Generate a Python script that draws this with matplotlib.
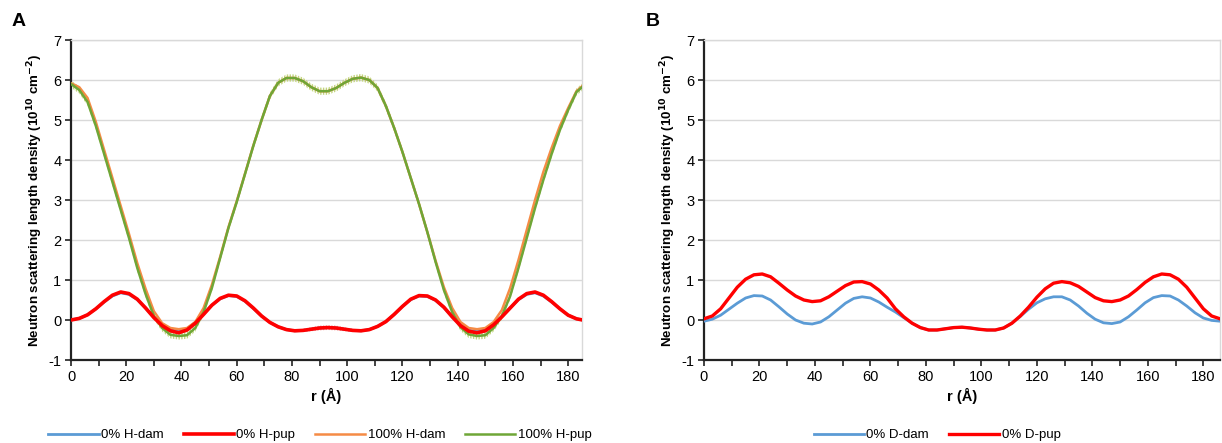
import numpy as np
import matplotlib
matplotlib.use("Agg")
import matplotlib.pyplot as plt

plt.rcParams['font.family'] = ['Liberation Sans', 'DejaVu Sans']
plt.rcParams['axes.unicode_minus'] = False

# radial positions (Å)
r = np.arange(0, 187, 3)

# Panel A
h0_dam = [0.0, 0.04, 0.13, 0.28, 0.45, 0.60, 0.68, 0.64, 0.51, 0.30, 0.07, -0.13, -0.25, -0.28, -0.22,
          -0.06, 0.15, 0.37, 0.53, 0.61, 0.59, 0.47, 0.29, 0.10, -0.06, -0.17, -0.24, -0.27, -0.26, -0.23,
          -0.20, -0.19, -0.20, -0.23, -0.26, -0.27, -0.24, -0.16, -0.04, 0.14, 0.34, 0.51, 0.60, 0.59,
          0.49, 0.31, 0.08, -0.13, -0.26, -0.28, -0.24, -0.10, 0.09, 0.30, 0.51, 0.64, 0.68, 0.60, 0.45,
          0.28, 0.12, 0.03, -0.01]
h0_pup = [0.0, 0.04, 0.13, 0.28, 0.46, 0.62, 0.70, 0.66, 0.52, 0.30, 0.06, -0.14, -0.27, -0.32, -0.25,
          -0.08, 0.14, 0.37, 0.54, 0.62, 0.60, 0.48, 0.30, 0.10, -0.06, -0.17, -0.24, -0.27, -0.26, -0.23,
          -0.20, -0.19, -0.20, -0.23, -0.26, -0.27, -0.24, -0.16, -0.04, 0.14, 0.34, 0.52, 0.61, 0.60,
          0.50, 0.32, 0.08, -0.14, -0.28, -0.32, -0.27, -0.12, 0.08, 0.30, 0.52, 0.66, 0.70, 0.62, 0.46,
          0.28, 0.12, 0.03, -0.01]
h0_pup_err = [0.0] * 28 + [0.04, 0.05, 0.06, 0.06, 0.06, 0.05, 0.04] + [0.0] * 28
h100_dam = [5.92, 5.82, 5.55, 4.95, 4.25, 3.55, 2.85, 2.15, 1.42, 0.78, 0.22, -0.08, -0.20, -0.23, -0.20,
            -0.05, 0.30, 0.88, 1.58, 2.32, 2.97, 3.66, 4.36, 5.00, 5.60, 5.93, 6.05, 6.05, 5.97, 5.82,
            5.72, 5.72, 5.80, 5.93, 6.03, 6.06, 6.00, 5.80, 5.35, 4.80, 4.20, 3.55, 2.90, 2.20, 1.48,
            0.82, 0.30, -0.05, -0.20, -0.23, -0.20, -0.05, 0.25, 0.80, 1.50, 2.25, 3.00, 3.70, 4.30,
            4.85, 5.30, 5.72, 5.90]
h100_pup = [5.90, 5.75, 5.45, 4.85, 4.15, 3.45, 2.75, 2.05, 1.30, 0.65, 0.10, -0.20, -0.37, -0.40, -0.38,
            -0.20, 0.20, 0.80, 1.55, 2.30, 2.95, 3.65, 4.35, 5.00, 5.60, 5.93, 6.05, 6.05, 5.97, 5.82,
            5.72, 5.72, 5.80, 5.93, 6.03, 6.06, 6.00, 5.80, 5.35, 4.80, 4.20, 3.55, 2.90, 2.20, 1.45,
            0.75, 0.20, -0.18, -0.36, -0.40, -0.38, -0.20, 0.10, 0.60, 1.30, 2.05, 2.80, 3.50, 4.15,
            4.75, 5.25, 5.70, 5.88]
h100_pup_err = [0.09] * len(h100_pup)

# Panel B
d0_dam = [-0.03, 0.02, 0.12, 0.27, 0.42, 0.55, 0.61, 0.60, 0.50, 0.33, 0.15, 0.00, -0.08, -0.10, -0.05,
          0.08, 0.25, 0.42, 0.54, 0.58, 0.55, 0.45, 0.32, 0.20, 0.06, -0.08, -0.19, -0.25, -0.25, -0.22,
          -0.19, -0.18, -0.20, -0.23, -0.25, -0.25, -0.20, -0.08, 0.09, 0.27, 0.43, 0.53, 0.58, 0.58,
          0.50, 0.35, 0.17, 0.02, -0.07, -0.09, -0.05, 0.08, 0.25, 0.43, 0.56, 0.61, 0.60, 0.50, 0.35,
          0.18, 0.05, -0.01, -0.03]
d0_pup = [0.03, 0.10, 0.28, 0.55, 0.82, 1.02, 1.13, 1.15, 1.08, 0.92, 0.75, 0.60, 0.50, 0.46, 0.48,
          0.58, 0.72, 0.86, 0.95, 0.96, 0.90, 0.75, 0.55, 0.28, 0.08, -0.08, -0.19, -0.25, -0.25, -0.22,
          -0.19, -0.18, -0.20, -0.23, -0.25, -0.25, -0.20, -0.08, 0.10, 0.32, 0.57, 0.78, 0.92, 0.96,
          0.93, 0.84, 0.70, 0.56, 0.48, 0.46, 0.50, 0.60, 0.76, 0.94, 1.08, 1.15, 1.13, 1.02, 0.82,
          0.55, 0.28, 0.10, 0.03]

labels_A = ['0% H-dam', '0% H-pup', '100% H-dam', '100% H-pup']
labels_B = ['0% D-dam', '0% D-pup']
c_blue, c_red, c_orange, c_green = '#5B9BD5', '#FF0000', '#F58B45', '#6FA637'

fig = plt.figure(figsize=(12.22, 4.43), dpi=100)
axA = fig.add_axes([71/1222, 1-360/443, 511/1222, 320/443])
axB = fig.add_axes([704/1222, 1-360/443, 516/1222, 320/443])

def style(ax, xmax):
    ax.set_xlim(0, xmax)
    ax.set_ylim(-1, 7)
    ax.set_yticks(range(-1, 8))
    ax.set_xticks(range(0, 181, 20))
    ax.set_xticks(range(0, 181, 10), minor=True)
    ax.yaxis.grid(True, color='#d9d9d9', linewidth=1.0)
    ax.set_axisbelow(True)
    for s in ['top', 'right']:
        ax.spines[s].set_color('#d9d9d9')
        ax.spines[s].set_linewidth(1.0)
    for s in ['left', 'bottom']:
        ax.spines[s].set_color('#222222')
        ax.spines[s].set_linewidth(1.6)
    ax.tick_params(axis='both', which='both', direction='out', length=4, width=1.2,
                   color='#222222', labelsize=10.5, pad=3)
    ax.set_xlabel('r (Å)', fontsize=10.5, fontweight='bold', labelpad=3)
    ax.set_ylabel('Neutron scattering length density (10$^{\\mathbf{10}}$ cm$^{\\mathbf{-2}}$)',
                  fontsize=9.6, fontweight='bold', labelpad=2)

style(axA, 185)
style(axB, 186)

# Panel A lines
gp = np.array(h100_pup)
ge = np.array(h100_pup_err)
axA.fill_between(r, gp - ge, gp + ge, facecolor='none', edgecolor='#c3d57e',
                 hatch='||||||', linewidth=0, zorder=2)
rp = np.array(h0_pup)
re = np.array(h0_pup_err)
axA.fill_between(r, rp - re, rp + re, where=re > 0, facecolor='none', edgecolor='#f2a0a0',
                 hatch='||||||', linewidth=0, zorder=2)
lA = []
lA += axA.plot(r, h0_dam, color=c_blue, lw=2.0, zorder=3)
lA += axA.plot(r, h0_pup, color=c_red, lw=2.6, zorder=4)
lA += axA.plot(r, h100_dam, color=c_orange, lw=1.8, zorder=3)
lA += axA.plot(r, h100_pup, color=c_green, lw=1.8, zorder=3)

lB = []
lB += axB.plot(r, d0_dam, color=c_blue, lw=2.0, zorder=3)
lB += axB.plot(r, d0_pup, color=c_red, lw=2.4, zorder=4)

fig.legend(lA, labels_A, loc='center', bbox_to_anchor=(320/1222, 1-435/443), ncol=4,
           frameon=False, fontsize=9.5, handlelength=3.8, columnspacing=1.5, handletextpad=0.2)
fig.legend(lB, labels_B, loc='center', bbox_to_anchor=(937/1222, 1-435/443), ncol=2,
           frameon=False, fontsize=9.5, handlelength=3.8, columnspacing=1.5, handletextpad=0.2)

fig.text(12/1222, 1-22/443, 'A', fontsize=14, fontweight='bold', va='center', ha='left')
fig.text(646/1222, 1-21/443, 'B', fontsize=14, fontweight='bold', va='center', ha='left')

fig.savefig('out.png', dpi=100)
